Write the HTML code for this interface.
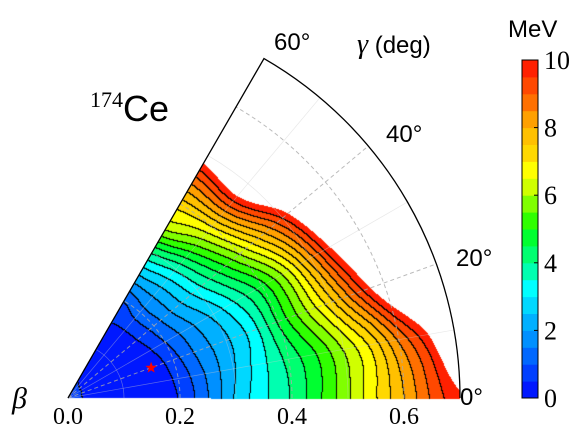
<!DOCTYPE html>
<html><head><meta charset="utf-8"><style>
html,body{margin:0;padding:0;background:#fff;}
#wrap{position:relative;width:587px;height:447px;overflow:hidden;}
canvas,svg{position:absolute;left:0;top:0;}
.sans{font-family:"Liberation Sans",sans-serif;}
.serif{font-family:"Liberation Serif",serif;}
</style></head><body>
<div id="wrap">
<canvas id="cv" width="587" height="447"></canvas>
<svg id="sv" width="587" height="447" xmlns="http://www.w3.org/2000/svg"></svg>
</div>
<script>
// ---- data ----
const betaGrid = [0,0.05,0.1,0.15,0.2,0.25,0.3,0.35,0.4,0.45,0.5,0.55,0.6,0.65,0.7];
const gammaGrid = [0,10,20,30,40,50,60];
const eGamma0  = [0.7,0.3,0.1,0.2,0.56,1.5,2.6,3.4,4.07,4.95,5.94,6.98,8.0,9.1,9.9];
const eGamma10 = [0.7,0.25,0.05,0.1,0.65,1.55,2.45,3.33,4.17,5.0,6.05,7.15,8.6,9.9,11.5];
const eGamma20 = [0.7,0.25,0.05,0.05,0.8,1.7,2.4,3.25,4.6,5.9,7.35,9.1,10.9,12.5,14];
const eGamma30 = [0.7,0.3,0.1,0.2,1.0,1.85,2.65,3.65,4.8,6.3,8.3,10.4,12,13,14];
const eGamma40 = [0.7,0.3,0.15,0.35,1.2,2.2,3.25,4.5,6.0,7.7,9.5,11.5,13,14,15];
const eGamma50 = [0.7,0.35,0.2,0.4,1.3,2.3,3.6,5.3,7.0,9.1,11.2,12.5,14,15,16];
const eGamma60 = [0.7,0.4,0.25,0.45,1.03,2.4,4.05,6.1,7.25,8.8,10.6,12.5,14,15,16];
const levelColors = ["#0018ff","#0040ff","#0068ff","#0090ff","#00b0ff","#00d8ff","#00ffff","#00ffb0","#00ff70","#00ff30","#30ff00","#80ff00","#d0ff00","#ffff00","#ffd800","#ffc000","#ffa000","#ff7000","#ff4800","#ff2000"];
const betaTicks = [0.0,0.2,0.4,0.6];
const betaTickLabels = ["0.0","0.2","0.4","0.6"];
const gammaTicks = [0,20,40,60];
const cbTicks = [0,2,4,6,8,10];
const minBeta = 0.158, minGamma = 20;

// ---- geometry ----
const OX=68, OY=398, S=560, BMAX=0.7, EMAX=10, DE=0.5;
const rows=[eGamma0,eGamma10,eGamma20,eGamma30,eGamma40,eGamma50,eGamma60];
function px(b,g){return OX+b*S*Math.cos(g*Math.PI/180);}
function py(b,g){return OY-b*S*Math.sin(g*Math.PI/180);}
function cr(p0,p1,p2,p3,t){return 0.5*((2*p1)+(-p0+p2)*t+(2*p0-5*p1+4*p2-p3)*t*t+(-p0+3*p1-3*p2+p3)*t*t*t);}
function val(j,i){j=Math.max(0,Math.min(rows.length-1,j));i=Math.max(0,Math.min(betaGrid.length-1,i));return rows[j][i];}
function energy(b,g){
  const bs=betaGrid[1]-betaGrid[0], gs=gammaGrid[1]-gammaGrid[0];
  let i=Math.min(Math.floor(b/bs),betaGrid.length-2), j=Math.min(Math.floor(g/gs),gammaGrid.length-2);
  const tb=(b-betaGrid[i])/bs, tg=(g-gammaGrid[j])/gs;
  const r=[];
  for(let k=-1;k<=2;k++) r.push(cr(val(j+k,i-1),val(j+k,i),val(j+k,i+1),val(j+k,i+2),tb));
  return cr(r[0],r[1],r[2],r[3],tg);
}
function hex(h){return [parseInt(h.slice(1,3),16),parseInt(h.slice(3,5),16),parseInt(h.slice(5,7),16)];}
const rgb=levelColors.map(hex);

// ---- filled contours on canvas ----
const cv=document.getElementById('cv'), ctx=cv.getContext('2d');
const W=587,H=447, img=ctx.createImageData(W,H), lv=new Int16Array(W*H).fill(-1);
for(let y=0;y<H;y++)for(let x=0;x<W;x++){
  const dx=x+0.5-OX, dy=OY-(y+0.5); const b=Math.hypot(dx,dy)/S; const g=Math.atan2(dy,dx)*180/Math.PI;
  if(b>BMAX||g<-0.2||g>60) continue;
  const e=energy(b,Math.max(0,g)); if(e>=EMAX){lv[y*W+x]=99;continue;}
  lv[y*W+x]=Math.max(0,Math.floor(e/DE));
}
for(let y=0;y<H;y++)for(let x=0;x<W;x++){
  const k=y*W+x, L=lv[k]; if(L<0||L===99) continue;
  let c=rgb[Math.min(L,rgb.length-1)];
  const l2=x>0?lv[k-1]:-1, u2=y>0?lv[k-W]:-1;
  if((l2>=0&&l2!==99&&l2!==L)||(u2>=0&&u2!==99&&u2!==L)) c=[0,0,0];
  img.data[k*4]=c[0];img.data[k*4+1]=c[1];img.data[k*4+2]=c[2];img.data[k*4+3]=255;
}
ctx.putImageData(img,0,0);

// ---- svg overlay ----
const NS="http://www.w3.org/2000/svg", sv=document.getElementById('sv');
function mk(tag,attrs,txt){const e=document.createElementNS(NS,tag);for(const k in attrs)e.setAttribute(k,attrs[k]);if(txt!==undefined)e.textContent=txt;sv.appendChild(e);return e;}
function arc(b,g0,g1){return `M${px(b,g0)},${py(b,g0)} A${b*S},${b*S} 0 0 0 ${px(b,g1)},${py(b,g1)}`;}
for(let k=1;k<=6;k++){const b=k*0.1;
  const e=mk('path',{d:arc(b,0,60),fill:'none',stroke:k%2===0?'#aaa':'#ccc','stroke-opacity':k%2===0?0.8:0.45,'stroke-width':k%2===0?1:0.7,'stroke-dasharray':k%2===0?'4,3':'none'});
  
  
}
for(let g=10;g<60;g+=10){const dash=g%20===0;
  const e=mk('line',{x1:OX,y1:OY,x2:px(BMAX,g),y2:py(BMAX,g),stroke:dash?'#aaa':'#ccc','stroke-opacity':dash?0.8:0.45,'stroke-width':dash?1:0.7,'stroke-dasharray':dash?'4,3':'none'});
  
  
}
let fr=mk('path',{d:`M${OX},${OY} L${px(BMAX,60)},${py(BMAX,60)} `+`A${BMAX*S},${BMAX*S} 0 0 1 ${px(BMAX,0)},${py(BMAX,0)}`,fill:'none',stroke:'#000','stroke-width':1.3});


{const cx=px(minBeta,minGamma), cy=py(minBeta,minGamma); let p=[];
 for(let i=0;i<10;i++){const r=i%2?2.5:6, a=-Math.PI/2+i*Math.PI/5;p.push((cx+r*Math.cos(a)).toFixed(1)+','+(cy+r*Math.sin(a)).toFixed(1));}
 const st=mk('polygon',{points:p.join(' '),fill:'#ff0000'});
 
 }
betaTicks.forEach((b,i)=>{
  const t=mk('text',{x:px(b,0),y:424,'text-anchor':'middle','font-size':24,class:'serif'},betaTickLabels[i]);
  
  
});
const gPos={0:[478,405],20:[474,266],40:[404,142],60:[292,50]};
gammaTicks.forEach(g=>{
  const t=mk('text',{x:gPos[g][0]-18,y:gPos[g][1],'font-size':24,class:'sans'},g+'°');
  
  
});
let bt=mk('text',{x:12,y:408,'font-size':30,'font-style':'italic',class:'serif'},'β');


let gt=mk('text',{x:357,y:53,'font-size':24,class:'sans'});


gt.innerHTML='<tspan font-family="Liberation Serif" font-style="italic" font-size="28">γ</tspan> (deg)';
let nt=mk('text',{x:90,y:121,class:'sans'});


nt.innerHTML='<tspan font-family="Liberation Serif" font-size="22" dy="-14">174</tspan><tspan font-size="36" dy="14">Ce</tspan>';
const CX=522,CW=16,CT=60,CB=398;
function cy(v){return CB-(v/EMAX)*(CB-CT);}
levelColors.forEach((c,i)=>{
  const r=mk('rect',{x:CX,y:cy((i+1)*DE),width:CW,height:cy(i*DE)-cy((i+1)*DE)+0.5,fill:c});
  
  
});
let cbf=mk('rect',{x:CX,y:CT,width:CW,height:CB-CT,fill:'none',stroke:'#000','stroke-width':1});


cbTicks.forEach(v=>{
  const l=mk('line',{x1:CX+CW-4,x2:CX+CW,y1:cy(v),y2:cy(v),stroke:'#000','stroke-width':1});
  
  
  const t=mk('text',{x:544,y:cy(v)+9,'font-size':26,class:'serif'},String(v));
  
  
});
let mev=mk('text',{x:508,y:37,'font-size':24,class:'sans'},'MeV');


</script>
</body></html>
